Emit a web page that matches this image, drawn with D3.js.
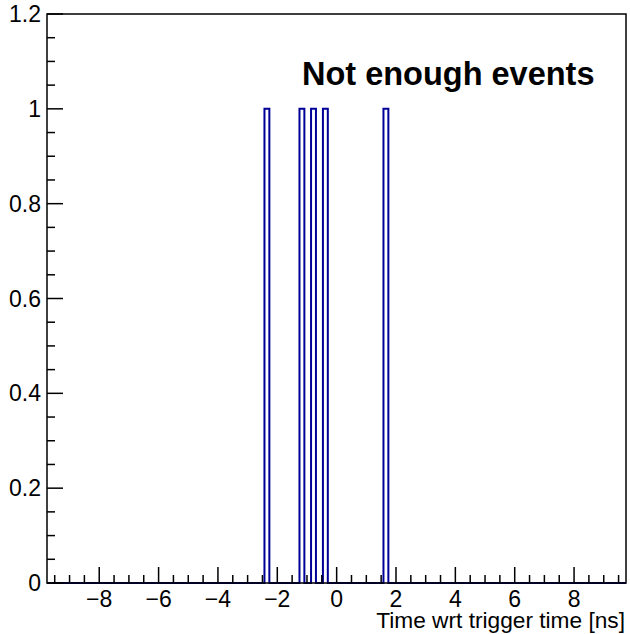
<!DOCTYPE html>
<html>
<head>
<meta charset="utf-8">
<script src="https://cdn.jsdelivr.net/npm/d3@7"></script>
<style>
html,body{margin:0;padding:0;background:#fff;}
svg{display:block;}
text{font-family:"Liberation Sans",Arial,Helvetica,sans-serif;}
</style>
</head>
<body>
<svg id="c" width="630" height="634"></svg>
<script>
// ---- data ----
const binCenters = [-2.35, -1.17, -0.78, -0.38, 1.66];
const counts = [1, 1, 1, 1, 1];
const binWidth = 0.165;
const xDomain = [-9.76, 9.75];
const yDomain = [0, 1.2];
const xTickValues = [-8, -6, -4, -2, 0, 2, 4, 6, 8];
const yTickValues = [0, 0.2, 0.4, 0.6, 0.8, 1, 1.2];
const xTitle = "Time wrt trigger time [ns]";
const message = "Not enough events";

// ---- layout ----
const L = 47, R = 626, T = 14, B = 583;
const svg = d3.select("#c");
const x = d3.scaleLinear().domain(xDomain).range([L, R]);
const y = d3.scaleLinear().domain(yDomain).range([B, T]);

// histogram step path
const edges = binCenters.map((c, i) => ({lo: c - binWidth / 2, hi: c + binWidth / 2, v: counts[i]}));
let pts = [[xDomain[0], 0]];
edges.forEach(e => {
  pts.push([e.lo, 0], [e.lo, e.v], [e.hi, e.v], [e.hi, 0]);
});
pts.push([xDomain[1], 0]);
const line = d3.line().x(d => x(d[0])).y(d => y(d[1]));
svg.append("path").attr("d", line(pts))
  .attr("fill", "none").attr("stroke", "#000099").attr("stroke-width", 2);

// frame
svg.append("rect").attr("x", L).attr("y", T).attr("width", R - L).attr("height", B - T)
  .attr("fill", "none").attr("stroke", "#000").attr("stroke-width", 1.5);

// x axis ticks
const xMinor = d3.range(-9.5, 9.76, 0.5).filter(v => v > xDomain[0] && v < xDomain[1]);
const gx = svg.append("g");
xMinor.forEach(v => {
  const major = Math.abs(v / 2 - Math.round(v / 2)) < 1e-9;
  gx.append("line").attr("x1", x(v)).attr("x2", x(v))
    .attr("y1", B).attr("y2", B - (major ? 16 : 8))
    .attr("stroke", "#000").attr("stroke-width", 1.5);
});
xTickValues.forEach(v => {
  gx.append("text").attr("x", x(v)).attr("y", 607)
    .attr("text-anchor", "middle").attr("font-size", 23)
    .text(v < 0 ? "\u2212" + Math.abs(v) : String(v));
});
svg.append("text").attr("x", 625).attr("y", 628).attr("text-anchor", "end")
  .attr("font-size", 22.7).text(xTitle);

// y axis ticks
const yMinor = d3.range(0, 1.2001, 0.05);
const gy = svg.append("g");
yMinor.forEach(v => {
  const major = Math.abs(v / 0.2 - Math.round(v / 0.2)) < 1e-6;
  gy.append("line").attr("x1", L).attr("x2", L + (major ? 16 : 8))
    .attr("y1", y(v)).attr("y2", y(v))
    .attr("stroke", "#000").attr("stroke-width", 1.5);
});
yTickValues.forEach(v => {
  gy.append("text").attr("x", 41).attr("y", y(v) + 8)
    .attr("text-anchor", "end").attr("font-size", 23)
    .text(d3.format("~g")(v));
});

// message
svg.append("text").attr("x", 302).attr("y", 85).attr("font-size", 32.5)
  .attr("font-weight", "bold").text(message);
</script>
</body>
</html>
